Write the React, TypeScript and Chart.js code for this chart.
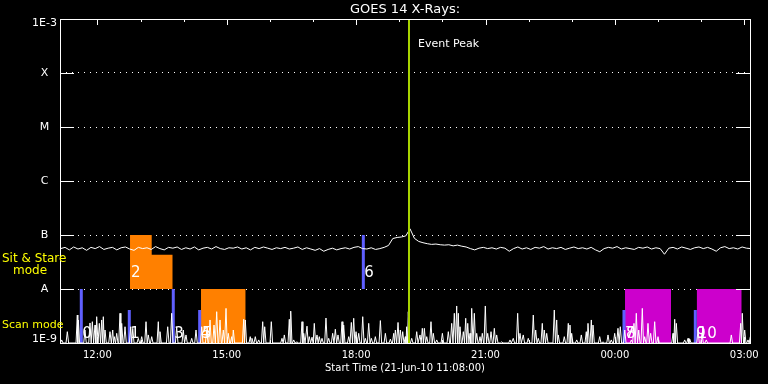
import React, { useEffect, useRef } from 'react';
import { Chart, registerables } from 'chart.js';

Chart.register(...registerables);

const FONT = 'DejaVu Sans';

// time axis in hours since 21-Jun-10 00:00
const startHour = 11 + 8 / 60;
const endHour = startHour + 16;
const xTickHours = [12, 15, 18, 21, 24, 27];

const yTickValues = [1e-9, 1e-8, 1e-7, 1e-6, 1e-5, 1e-4, 1e-3];
const yTickLabels = ['1E-9', 'A', 'B', 'C', 'M', 'X', '1E-3'];

// GOES 14 flux (units of 1e-8 W/m^2), every 0.1 h from 11.15
const stareStart = 11.15;
const stareStep = 0.1;
const stareFlux = [
  5.6, 5.9, 5.3, 6.0, 5.5, 5.8, 5.2, 5.9, 5.6, 6.1, 5.4, 5.7, 5.9, 5.3, 5.8, 6.0, 5.5, 5.2, 5.9, 5.6,
  5.8, 5.4, 6.1, 5.6, 5.3, 5.9, 5.7, 6.0, 5.4, 5.8, 5.5, 6.0, 5.3, 5.7, 5.9, 5.5, 6.1, 5.6, 5.4, 5.8,
  5.7, 6.0, 5.5, 5.8, 5.3, 5.9, 5.6, 6.0, 5.7, 5.4, 5.8, 5.6, 5.9, 5.5, 5.7, 6.0, 5.4, 5.8, 5.5, 5.2,
  5.6, 5.0, 5.4, 5.7, 5.3, 5.6, 5.8, 5.5, 5.9, 6.1, 5.6, 5.5, 5.8, 5.4, 5.6, 5.9,
  6.4, 8.6, 9.0, 9.2, 9.6, 13.0, 8.7, 7.6, 7.2, 6.9, 6.7, 6.8, 6.6, 6.5, 6.6, 6.3, 6.5, 6.2, 6.0, 5.6,
  5.3, 5.7, 5.9, 5.6, 5.8, 5.5, 5.9, 5.7, 5.0, 5.6, 6.0, 5.5, 5.8, 5.4, 5.9, 5.7, 6.1, 5.5, 5.8, 5.6,
  5.9, 5.4, 5.7, 6.0, 5.6, 5.8, 5.5, 5.9, 5.3, 4.9, 5.6, 5.9, 5.7, 6.1, 5.5, 5.8, 5.6, 5.4, 5.9, 5.7,
  6.0, 5.5, 5.8, 5.6, 4.4, 5.7, 5.9, 5.5, 6.0, 5.7, 5.4, 5.8, 6.0, 5.6, 5.9, 5.5, 5.0, 5.8, 6.1, 5.6,
  5.8, 5.5, 6.0, 5.7, 5.6,
];

// scan-mode spikes: time (h) and peak (units of 1e-9)
const scanTimes = [
  11.173, 11.303, 11.535, 11.558, 11.713, 11.829, 11.883, 11.945, 11.984, 12.045, 12.100, 12.138, 12.177,
  12.293, 12.356, 12.393, 12.448, 12.525, 12.564, 12.641, 12.773, 12.820, 12.949, 13.028, 13.128, 13.181,
  13.260, 13.413, 13.452, 13.631, 13.723, 13.839, 13.992, 14.055, 14.187, 14.287, 14.419, 14.535, 14.612,
  14.705, 14.767, 14.844, 14.920, 14.983, 15.036, 15.115, 15.152,
  15.393, 15.430, 15.546, 15.585, 15.662, 15.741, 15.834, 15.880, 16.033, 16.281, 16.335, 16.451, 16.483,
  16.553, 16.629, 16.745, 16.785, 16.861, 16.914, 16.977, 17.030, 17.093, 17.146, 17.209, 17.301, 17.364,
  17.456, 17.518, 17.580, 17.673, 17.711, 17.828, 17.889, 17.944, 17.998, 18.060, 18.153, 18.214, 18.292,
  18.353, 18.446, 18.562, 18.678, 18.794, 18.872, 18.910, 18.972, 19.025, 19.080, 19.141,
  19.172, 19.210, 19.289, 19.405, 19.481, 19.535, 19.582, 19.637, 19.736, 19.790, 19.869, 20.000, 20.138,
  20.216, 20.277, 20.332, 20.370, 20.409, 20.486, 20.541, 20.588, 20.641, 20.680, 20.741, 20.796, 20.873,
  20.926, 20.996, 21.051, 21.128, 21.205, 21.259, 21.375, 21.568, 21.644, 21.746, 21.800, 21.876, 21.992,
  22.108, 22.164, 22.224, 22.317, 22.363, 22.419, 22.595, 22.651, 22.688, 22.827, 22.920, 22.959, 22.998,
  23.115,
  23.222, 23.337, 23.377, 23.454, 23.493, 23.648, 23.725, 23.841, 23.917, 23.996, 24.072, 24.126, 24.229,
  24.382, 24.443, 24.497, 24.553, 24.636, 24.691, 24.768, 24.830, 24.923, 25.000, 25.348, 25.387, 25.425,
  25.619, 25.696, 25.736, 25.928, 26.021, 26.120, 26.700, 26.918, 26.955, 27.010, 27.087, 27.141,
];
const scanPeaks = [
  1.14, 1.62, 3.3, 2.67, 1.74, 2.35, 2.48, 2.15, 3.07, 2.31, 2.67, 3.07, 1.74,
  1.62, 1.74, 1.31, 1.51, 3.55, 2.31, 2.0, 2.0, 1.87, 1.22, 1.31, 2.48, 1.41,
  1.31, 2.48, 1.62, 2.0, 3.55, 2.0, 1.74, 1.41, 1.22, 1.74, 2.0, 1.74, 2.67,
  2.15, 3.8, 2.67, 1.74, 4.38, 1.51, 1.31, 1.74,
  2.75, 2.67, 1.31, 1.22, 1.31, 1.14, 2.48, 2.0, 2.48, 1.22, 1.41, 2.75, 3.9,
  1.14, 1.05, 2.48, 1.51, 2.05, 1.31, 1.28, 2.31, 1.41, 1.31, 1.22, 2.9, 1.22,
  1.51, 1.8, 1.41, 2.48, 2.15, 1.31, 2.4, 2.87, 1.62, 1.51, 3.07, 1.22, 2.31,
  1.22, 1.31, 2.6, 1.51, 1.18, 1.51, 1.74, 2.4, 1.74, 1.62, 1.31,
  2.0, 3.8, 1.22, 1.62, 1.41, 1.87, 1.87, 1.31, 2.48, 1.51, 1.14, 1.51, 1.62,
  2.31, 3.55, 4.85, 3.55, 2.0, 1.62, 2.87, 2.31, 1.51, 4.38, 3.55, 1.51, 1.31,
  1.51, 4.85, 1.51, 1.62, 1.87, 1.41, 1.05, 1.14, 1.22, 3.55, 1.51, 1.41, 1.22,
  3.3, 1.74, 1.22, 2.31, 1.74, 1.51, 4.08, 2.67, 1.41, 1.31, 2.31, 2.15, 1.51,
  1.14,
  1.41, 1.62, 2.31, 2.67, 2.15, 1.31, 1.05, 1.41, 1.14, 1.51, 1.87, 2.0, 1.74,
  1.14, 2.31, 3.55, 1.74, 4.38, 1.31, 2.31, 1.51, 2.48, 1.31, 1.51, 2.75, 2.31,
  1.14, 1.22, 1.18, 1.74, 1.51, 1.14, 1.41, 2.31, 3.55, 1.74, 1.14, 1.31,
];

// observation blocks (adjacent blocks of the same kind are drawn as one shape)
const blockStarts = [12.757, 13.260, 14.403, 24.235, 25.897];
const blockEnds = [13.260, 13.747, 15.439, 25.302, 26.941];
const blockTops = [1e-7, 4.3e-8, 1e-8, 1e-8, 1e-8];
const blockBases = [1e-8, 1e-8, 1e-9, 1e-9, 1e-9];
const blockKinds = ['stare', 'stare', 'scan', 'raster', 'raster'];

// blue markers
const markerTimes = [11.627, 12.740, 13.760, 14.372, 18.167, 24.211, 25.865];
const markerLows = [1e-9, 1e-9, 1e-9, 1e-9, 1e-8, 1e-9, 1e-9];
const markerHighs = [1e-8, 4.1e-9, 1e-8, 4.1e-9, 1e-7, 4.1e-9, 4.1e-9];

// event numbers
const eventNumbers = ['0', '1', '2', '3', '4', '5', '6', '7', '8', '9', '10'];
const eventTimes = [11.627, 12.740, 12.757, 13.760, 14.372, 14.403, 18.167, 24.211, 24.235, 25.865, 25.897];
const eventBands = ['scan', 'scan', 'stare', 'scan', 'scan', 'scan', 'stare', 'scan', 'scan', 'scan', 'scan'];

const eventPeakTime = 19.226;

const blockColors: Record<string, string> = { stare: '#ff8000', scan: '#ff8000', raster: '#cc00cc' };

function fmtHour(v: number) {
  const h = Math.round(v) % 24;
  return (h < 10 ? '0' : '') + h + ':00';
}

const decorPlugin = {
  id: 'decor',
  beforeDraw(chart: any) {
    const { ctx, width, height } = chart;
    ctx.save();
    ctx.fillStyle = '#000';
    ctx.fillRect(0, 0, width, height);
    ctx.restore();
  },
  afterDraw(chart: any) {
    const { ctx, chartArea, scales } = chart;
    const { left, right, top, bottom } = chartArea;
    const x = scales.x;
    const y = scales.y;
    ctx.save();
    ctx.strokeStyle = '#fff';
    ctx.lineWidth = 1;
    ctx.strokeRect(left + 0.5, top + 0.5, right - left, bottom - top);
    ctx.beginPath();
    yTickValues.forEach((v) => {
      const py = Math.round(y.getPixelForValue(v)) + 0.5;
      ctx.moveTo(left, py);
      ctx.lineTo(left + 14, py);
      ctx.moveTo(right - 14, py);
      ctx.lineTo(right, py);
    });
    for (let h = Math.ceil(x.min); h <= Math.floor(x.max); h++) {
      const px = Math.round(x.getPixelForValue(h)) + 0.5;
      const len = h % 3 === 0 ? 6 : 3;
      ctx.moveTo(px, top);
      ctx.lineTo(px, top + len);
      ctx.moveTo(px, bottom);
      ctx.lineTo(px, bottom - len);
    }
    ctx.stroke();

    // Event peak label
    ctx.fillStyle = '#fff';
    ctx.font = `11px "${FONT}"`;
    ctx.textAlign = 'left';
    ctx.textBaseline = 'alphabetic';
    ctx.fillText('Event Peak', x.getPixelForValue(eventPeakTime) + 9, top + 28);

    // mode labels
    const pA = y.getPixelForValue(1e-8);
    const pBase = y.getPixelForValue(1e-9);
    ctx.fillStyle = '#ffff00';
    ctx.font = `12px "${FONT}"`;
    ctx.fillText('Sit & Stare', 2, pA - 27);
    ctx.fillText('mode', 13, pA - 15);
    ctx.font = `11px "${FONT}"`;
    ctx.fillText('Scan mode', 2, pBase - 15);

    // event numbers
    ctx.fillStyle = '#fff';
    ctx.font = `15px "${FONT}"`;
    eventNumbers.forEach((n, i) => {
      const px = x.getPixelForValue(eventTimes[i]) + 1;
      const py = eventBands[i] === 'stare' ? pA - 12 : pBase - 5;
      ctx.fillText(n, px, py);
    });
    ctx.restore();
  },
};

export default function App() {
  const ref = useRef<HTMLCanvasElement | null>(null);

  useEffect(() => {
    document.body.style.margin = '0';
    document.body.style.background = '#000';
    if (!ref.current) return;

    const stareData = stareFlux.map((v, i) => ({ x: stareStart + i * stareStep, y: v * 1e-8 }));

    const w = 0.03;
    const scanData: { x: number; y: number }[] = [];
    scanTimes.forEach((t, i) => {
      if (i === 0) scanData.push({ x: t - w, y: 1e-9 });
      scanData.push({ x: t, y: scanPeaks[i] * 1e-9 });
      const next = scanTimes[i + 1];
      if (next === undefined) {
        scanData.push({ x: t + w, y: 1e-9 });
      } else if (next - t > 2 * w) {
        scanData.push({ x: t + w, y: 1e-9 });
        scanData.push({ x: next - w, y: 1e-9 });
      } else {
        scanData.push({ x: (t + next) / 2, y: 1e-9 });
      }
    });

    const markerData: { x: number; y: number | null }[] = [];
    markerTimes.forEach((t, i) => {
      markerData.push({ x: t, y: markerLows[i] });
      markerData.push({ x: t, y: markerHighs[i] });
      markerData.push({ x: t, y: null });
    });

    // group adjacent blocks of the same kind into one filled outline
    const groups: { kind: string; base: number; pts: { x: number; y: number }[] }[] = [];
    blockStarts.forEach((s, i) => {
      const last = groups[groups.length - 1];
      const pts = [
        { x: s, y: blockTops[i] },
        { x: blockEnds[i], y: blockTops[i] },
      ];
      if (last && last.kind === blockKinds[i] && last.base === blockBases[i] &&
          Math.abs(last.pts[last.pts.length - 1].x - s) < 1e-6) {
        last.pts.push(...pts);
      } else {
        groups.push({ kind: blockKinds[i], base: blockBases[i], pts });
      }
    });
    const blockSets = groups.map((g) => ({
      data: g.pts,
      borderWidth: 0,
      borderColor: blockColors[g.kind],
      backgroundColor: blockColors[g.kind],
      pointRadius: 0,
      fill: { value: g.base },
      order: 5,
    }));

    const chart = new Chart(ref.current, {
      type: 'line',
      data: {
        datasets: [
          {
            data: [
              { x: eventPeakTime, y: 1e-9 },
              { x: eventPeakTime, y: 1e-3 },
            ],
            borderColor: '#a8d400',
            borderWidth: 2,
            pointRadius: 0,
            fill: false,
            order: 0,
          },
          {
            data: scanData,
            borderColor: '#ffffff',
            borderWidth: 1,
            pointRadius: 0,
            fill: false,
            order: 1,
          },
          {
            data: stareData,
            borderColor: '#ffffff',
            borderWidth: 1,
            pointRadius: 0,
            fill: false,
            order: 1,
          },
          {
            data: markerData,
            borderColor: '#5f5fff',
            borderWidth: 3,
            pointRadius: 0,
            fill: false,
            spanGaps: false,
            order: 2,
          },
          ...blockSets,
        ] as any,
      },
      options: {
        animation: false,
        responsive: false,
        events: [],
        layout: { padding: { top: 0, right: 18, bottom: 0, left: 0 } },
        plugins: {
          legend: { display: false },
          tooltip: { enabled: false },
          title: {
            display: true,
            text: 'GOES 14 X-Rays:',
            color: '#ffffff',
            font: { family: FONT, size: 13, weight: 'normal', lineHeight: 1.2 },
            padding: { top: 2, bottom: 1.4 },
            fullSize: false,
          },
        },
        scales: {
          x: {
            type: 'linear',
            min: startHour,
            max: endHour,
            afterBuildTicks: (s: any) => {
              s.ticks = xTickHours.map((v) => ({ value: v }));
            },
            afterFit: (s: any) => {
              s.height = 41;
            },
            ticks: {
              color: '#ffffff',
              font: { family: FONT, size: 10 },
              padding: 6,
              maxRotation: 0,
              autoSkip: false,
              callback: (v: any) => fmtHour(Number(v)),
            },
            grid: { display: false, drawTicks: false },
            border: { display: false },
            title: {
              display: true,
              text: 'Start Time (21-Jun-10 11:08:00)',
              color: '#ffffff',
              font: { family: FONT, size: 10 },
              padding: { top: 0, bottom: 10 },
            },
          },
          y: {
            type: 'logarithmic',
            min: 1e-9,
            max: 1e-3,
            afterBuildTicks: (s: any) => {
              s.ticks = yTickValues.map((v) => ({ value: v }));
            },
            afterFit: (s: any) => {
              s.width = 60;
            },
            ticks: {
              color: '#ffffff',
              font: { family: FONT, size: 11, lineHeight: '8px' },
              padding: 3,
              crossAlign: 'center',
              autoSkip: false,
              callback: (v: any) => {
                const idx = yTickValues.findIndex((t) => Math.abs(Math.log10(t) - Math.log10(Number(v))) < 1e-6);
                const label = idx >= 0 ? yTickLabels[idx] : '';
                if (idx === yTickValues.length - 1) return ['', label];
                if (idx === 0) return [label, ''];
                return label;
              },
            },
            grid: { color: '#ffffff', drawTicks: false, lineWidth: 1 },
            border: { display: false, dash: [1, 5] },
          },
        },
      } as any,
      plugins: [decorPlugin],
    });

    return () => chart.destroy();
  }, []);

  return (
    <div style={{ width: 768, height: 384, background: '#000' }}>
      <canvas ref={ref} width={768} height={384} style={{ display: 'block', width: 768, height: 384 }} />
    </div>
  );
}
